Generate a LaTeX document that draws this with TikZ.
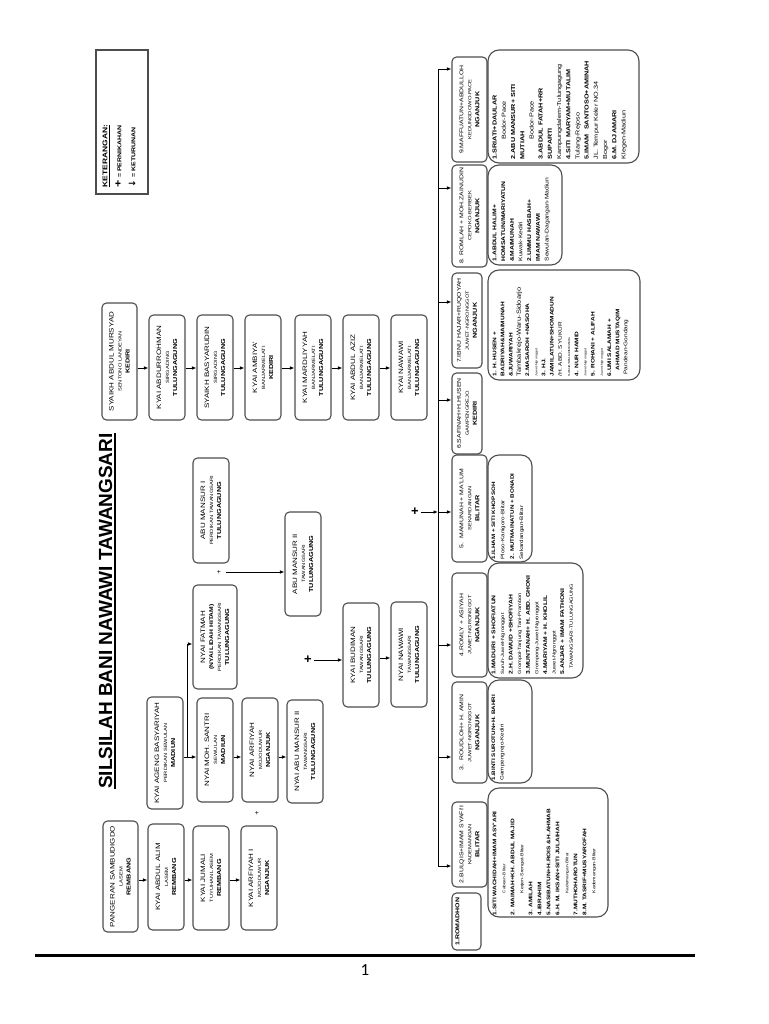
\documentclass[tikz,border=0pt]{standalone}
\usepackage{fontspec}
\setmainfont{Liberation Sans}
\newfontfamily\bxf{Liberation Sans}[FakeStretch=1.25]
\newfontfamily\pgfont{Carlito}
\newfontfamily\symf{DejaVu Sans}
\usetikzlibrary{arrows.meta}
\definecolor{boxc}{HTML}{4d4d4d}
\newcommand\fA{\fontsize{6.4}{8}\selectfont}
\newcommand\fB{\fontsize{4.6}{8}\selectfont}
\newcommand\fC{\fontsize{5.8}{8}\selectfont\bfseries}
\newcommand\fH{\fontsize{5.5}{8}\selectfont}
\newcommand\cb[3]{{\fA #1}\\{\fB #2}\\{\fC #3}}
\newcommand\ch[3]{{\fH #1}\\{\fB #2}\\{\fC #3}}
\newcommand\nmx[1]{{\bfseries #1}}
\newcommand\tplx[1]{{\fontsize{2.9}{3}\selectfont #1}}
\newcommand\cbx[6]{\node[cbox, minimum width=#5pt, minimum height=#4pt] (#1) at (#2,#3) {#6};}
\newcommand\hc[3]{\draw[arr] (#1.south |- #3) -- (#2.north |- #3);}
\begin{document}
\begin{tikzpicture}[x=1pt,y=-1pt,
  cbox/.style={draw=boxc, line width=1.1pt, rounded corners=4.5pt, rotate=90, inner sep=1pt, align=center, font=\bxf\fontsize{6}{8}\selectfont},
  lbox/.style={draw=boxc, line width=1.1pt, rounded corners=11pt, rotate=90, inner sep=0pt},
  ltext/.style={rotate=90, anchor=north west, align=left, inner sep=0pt, font=\bxf\fontsize{5.5}{8.4}\selectfont},
  arr/.style={-{Latex[length=4.5pt,width=3.6pt]}, line width=0.9pt},
  plus/.style={inner sep=0pt, font=\fontsize{7}{7}\selectfont},
  bigplus/.style={inner sep=0pt, font=\fontsize{13}{13}\selectfont\bfseries}]
\fill[white] (0,0) rectangle (768,1024);
\useasboundingbox (0,0) rectangle (768,1024);

% title
\node[rotate=90, anchor=base, inner sep=0pt, font=\fontsize{19}{19}\selectfont\bfseries] (title) at (112,611) {SILSILAH BANI NAWAWI TAWANGSARI};
\draw[line width=1.8pt] ([xshift=2.6pt]title.south west) -- ([xshift=2.6pt]title.south east);

% legend
\node[draw=boxc, line width=1.1pt, minimum width=52pt, minimum height=144pt, inner sep=0pt] (ket) at (122,122) {};
\node[ltext, font=\bxf\fontsize{6}{14}\selectfont] (kett) at ([xshift=7pt,yshift=7pt]ket.south west)
 {{\fontsize{6.8}{8}\selectfont\bfseries\underline{KETERANGAN:}}\\
  {\fontsize{10}{10}\selectfont\bfseries +}\ {\fontsize{5.6}{6}\selectfont\bfseries = PERNIKAHAN}\\
  {\symf\fontsize{9}{9}\selectfont\bfseries ↓}\ {\fontsize{5.6}{6}\selectfont\bfseries = KETURUNAN}};

% right chain (Mursyad)
\cbx{mursyad}{119.5}{361.5}{35}{117}{\cb{SYAIKH ABDUL MURSYAD}{SENTONO LANDEYAN}{KEDIRI}}
\cbx{abdurrohman}{167}{367.5}{36}{105}{\cb{KYAI ABDURROHMAN}{SIRGADING}{TULUNGAGUNG}}
\cbx{basyarudin}{215}{367.5}{36}{105}{\cb{SYAIKH BASYARUDIN}{SIRGADING}{TULUNGAGUNG}}
\cbx{ambiya}{263}{367.5}{36}{105}{\cb{KYAI AMBIYA'}{BANJARMELATI}{KEDIRI}}
\cbx{mardliyyah}{313}{367.5}{36}{105}{\cb{KYAI MARDLIYYAH}{BANJARMELATI}{TULUNGAGUNG}}
\cbx{aziz}{361}{367.5}{36}{105}{\cb{KYAI ABDUL AZIZ}{BANJARMELATI}{TULUNGAGUNG}}
\cbx{kyainawawi}{409}{367.5}{36}{105}{\cb{KYAI NAWAWI}{BANJARMELATI}{TULUNGAGUNG}}

% left chain (Sambudigdo)
\cbx{pangeran}{120.5}{876.5}{35}{111}{\cb{PANGERAN SAMBUDIGDO}{LASEM}{REMBANG}}
\cbx{alim}{166}{877}{36}{106}{\cb{KYAI ABDUL ALIM}{LASEM}{REMBANG}}
\cbx{jumali}{211}{878}{36}{104}{\cb{KYAI JUMALI}{TUYUHAN LASEM}{REMBANG}}
\cbx{arfiyah}{259}{878}{36}{104}{\cb{KYAI ARFIYAH I}{MOJODUWUR}{NGANJUK}}

% middle chain (Basyariyah)
\cbx{ageng}{165}{753}{36}{112}{\cb{KYAI AGENG BASYARIYAH}{PERDIKAN SEWULAN}{MADIUN}}
\cbx{santri}{215}{750}{36}{104}{\cb{NYAI MOH. SANTRI}{SEWULAN}{MADIUN}}
\cbx{nyaiarfiyah}{260}{750}{36}{104}{\cb{NYAI ARFIYAH}{MOJODUWUR}{NGANJUK}}
\cbx{nyaimansur}{305}{751.5}{36}{103}{\cb{NYAI ABU MANSUR II}{TAWANGSARI}{TULUNGAGUNG}}
\cbx{fatmah}{215}{637}{44}{104}{{\fA NYAI FATMAH}\\{\fontsize{5.4}{8}\selectfont\bfseries (NYAI LIDAH HITAM)}\\{\fB PERDIKAN TAWANGSARI}\\{\fC TULUNGAGUNG}}
\cbx{mansur1}{211}{510.5}{36}{105}{\cb{ABU MANSUR I}{PERDIKAN TAWANGSARI}{TULUNGAGUNG}}
\cbx{mansur2}{303}{564}{36}{104}{\cb{ABU MANSUR II}{TAWANGSARI}{TULUNGAGUNG}}
\cbx{budiman}{361}{655}{36}{104}{\cb{KYAI BUDIMAN}{TAWANGSARI}{TULUNGAGUNG}}
\cbx{nyainawawi}{409}{654.5}{36}{105}{\cb{NYAI NAWAWI}{TAWANGSARI}{TULUNGAGUNG}}

% children headers
\cbx{c9}{469.5}{109.5}{35}{105}{\ch{9.MAFFUATUN+ABDULLOH}{KEDUNGDOWO-PACE}{NGANJUK}}
\cbx{c8}{469.5}{216}{35}{102}{\ch{8. ROMLAH + MOH.ZAINUDIN}{CEPOKO-BERBEK}{NGANJUK}}
\cbx{c7}{467}{320.5}{30}{95}{\ch{7.IBNU HAJAR+RUQOYAH}{JUWET-NGRONGGOT}{NGANJUK}}
\cbx{c6}{467}{413.5}{30}{81}{\ch{6.SAFINAH+H.HUSEN}{GAMPENGREJO}{KEDIRI}}
\cbx{c5}{469.5}{508.5}{35}{107}{\ch{5.\ \ MAMUNAH + MA'LUM}{SEKARDANGAN}{BLITAR}}
\cbx{c4}{469.5}{625}{35}{104}{\ch{4.ROMLY + ASIYAH}{JUWET-NGRONGGOT}{NGANJUK}}
\cbx{c3}{469.5}{732.5}{35}{101}{\ch{3.\ \ ROUDLOH+ H. AMIN}{JUWET-NGRONGGOT}{NGANJUK}}
\cbx{c2}{469.5}{844.5}{35}{85}{\ch{2.BULQIS+IMAM SYAFI'I}{KADEMANGAN}{BLITAR}}
\cbx{c1}{466.5}{921.5}{29}{57}{}
\node[rotate=90, inner sep=0pt, font=\bxf\fontsize{5.6}{8}\selectfont\bfseries] (c1t) at (457.5,921.5) {1.ROMADHON};

% grandchildren lists
\node[lbox, minimum width=113pt, minimum height=151pt] (l9) at (563.5,106.5) {};
\node[ltext, font=\bxf\fontsize{5.8}{9.2}\selectfont] (l9t) at ([xshift=5pt,yshift=4pt]l9.north west)
 {\nmx{1.SRIATI+DAULAR}\\
  \hspace*{20pt}Bodor-Pace\\
  \nmx{2.ABU MANSUR+ SITI}\\
  \nmx{MUTIAH}\\
  \hspace*{20pt}Bodor-Pace\\
  \nmx{3.ABDUL FATAH+RR}\\
  \nmx{SUPARTI}\\
  Kampungdalem-Tulungagung\\
  \nmx{4.SITI MARYAM+MUTALIM}\\
  Tulang-Rejoso\\
  \nmx{5.IMAM\ \ SANTOSO+AMINAH}\\
  JL. Tempur Keler NO.34\\
  Bogor\\
  \nmx{6.M. DJAMARI}\\
  Klegen-Madiun};

\node[lbox, minimum width=100pt, minimum height=74pt] (l8) at (525,215) {};
\node[ltext, font=\bxf\fontsize{5.4}{8.7}\selectfont] (l8t) at ([xshift=5pt,yshift=4pt]l8.north west)
 {\nmx{1.ABDUL HALIM+}\\
  \nmx{HOMSATUN/MARIYATUN}\\
  \nmx{\&MAIMUNAH}\\
  Kuwak-Kediri\\
  \nmx{2.UMMU HASBAH+}\\
  \nmx{IMAM NAWAWI}\\
  Sewulan-Dagangan-Madiun};

\node[lbox, minimum width=110pt, minimum height=152pt] (l7) at (564,325) {};
\node[ltext, font=\bxf\fontsize{5.2}{8.2}\selectfont] (l7t) at ([xshift=5pt,yshift=4pt]l7.north west)
 {\nmx{1. H. HUSEN +}\\
  \nmx{BADRIYAH\&MAIMUNAH}\\
  \nmx{\&JUWARIYAH}\\
  {\fontsize{6}{8}\selectfont Tambakrejo-Waru-Sidoarjo}\\
  \nmx{2.MASAROH +NASOHA}\\
  \tplx{Juwet-Ngronggot}\\
  \nmx{3. HJ.}\\
  \nmx{JAMILATUN+SHOMADUN}\\
  /H. ABD. SYUKUR\\
  \tplx{SANJATAN-GONDANG}\\
  \nmx{4. NUR HAMID}\\
  \tplx{Juwet-Ngronggot}\\
  \nmx{5. ROHANI + ALIFAH}\\
  \tplx{Juwet-Ngronggot}\\
  \nmx{6.UMI SALAMAH +}\\
  \hspace*{6pt}\nmx{AHMAD MUSTAQIM}\\
  \hspace*{2pt}Pandean-Gondang};

\node[lbox, minimum width=107pt, minimum height=44pt] (l5) at (510,508.5) {};
\node[ltext, font=\bxf\fontsize{5}{9.3}\selectfont] (l5t) at ([xshift=4pt,yshift=3pt]l5.north west)
 {\nmx{1.ILHAM + SITI KHOPSOH}\\
  Ploso-Kanigoro-Blitar\\
  \nmx{2. MUTMAINATUN + BONADI}\\
  Sekardangan-Blitar};

\node[lbox, minimum width=115pt, minimum height=95pt] (l4) at (535.5,620.5) {};
\node[ltext, font=\bxf\fontsize{5.4}{8.6}\selectfont] (l4t) at ([xshift=4pt,yshift=4pt]l4.north west)
 {\nmx{1.MADURI + SHOFIATUN}\\
  {\fontsize{4.6}{8}\selectfont Suruh-Juwet-Ngronggot}\\
  \nmx{2.H. DAWUD +SHOFIYAH}\\
  {\fontsize{4.6}{8}\selectfont Grompol-Tanjung Tani-Prambon}\\
  \nmx{3.MUNTANAH+ H. ABD. GHONI}\\
  {\fontsize{4.6}{8}\selectfont Grompong-Juwet-Ngronggot}\\
  \nmx{4.MARIYAM + H. KHOLIL}\\
  {\fontsize{4.6}{8}\selectfont Juwet-Ngronggot}\\
  \nmx{5.ANJAR + IMAM FATHONI}\\
  \hspace*{6pt}{\fontsize{4.6}{8}\selectfont TAWANGSARI-TULUNGAGUNG}};

\node[lbox, minimum width=103pt, minimum height=44pt] (l3) at (510,731.5) {};
\node[ltext, font=\bxf\fontsize{5}{8.4}\selectfont] (l3t) at ([xshift=4pt,yshift=3pt]l3.north west)
 {\nmx{1.BINTI SUROTUN+H. BAHRI}\\
  Gampengrejo-Kediri};

\node[lbox, minimum width=129pt, minimum height=120pt] (l2) at (548,852.5) {};
\node[ltext, font=\bxf\fontsize{5.2}{9}\selectfont] (l2t) at ([xshift=5pt,yshift=2pt]l2.north west)
 {\nmx{1.SITI WACHIDAH+IMAM ASY'ARI}\\
  \hspace*{22pt}{\fontsize{3.8}{8}\selectfont Cabean-Blitar}\\
  \nmx{2. MAIMAH+KH. ABDUL MAJID}\\
  \hspace*{22pt}{\fontsize{4.2}{8}\selectfont Kerjen-Srengat-Blitar}\\
  \nmx{3. AMILAH}\\
  \nmx{4.IBRAHIM}\\
  \nmx{5.NASIBATUN+H.ROIS \&H.AHMAB}\\
  \nmx{6.H. M. IKSAN+SITI JULAIHAH}\\
  \hspace*{22pt}{\fontsize{3.8}{8}\selectfont Kademangan-Blitar}\\
  \nmx{7.MUTHOHAROTUN}\\
  \nmx{8.M. TASRIF+MUSYAROFAH}\\
  \hspace*{22pt}{\fontsize{4.2}{8}\selectfont Kademangan-Blitar}};

% connector levels
\coordinate (yR) at (0,368);
\coordinate (yL) at (0,880);
\coordinate (yM) at (0,757);
\coordinate (yF) at (0,644);
\coordinate (yN) at (0,658);

\hc{mursyad}{abdurrohman}{yR}
\hc{abdurrohman}{basyarudin}{yR}
\hc{basyarudin}{ambiya}{yR}
\hc{ambiya}{mardliyyah}{yR}
\hc{mardliyyah}{aziz}{yR}
\hc{aziz}{kyainawawi}{yR}

\hc{pangeran}{alim}{yL}
\hc{alim}{jumali}{yL}
\hc{jumali}{arfiyah}{yL}

\hc{ageng}{santri}{yM}
\hc{santri}{nyaiarfiyah}{yM}
\hc{nyaiarfiyah}{nyaimansur}{yM}
\coordinate (jA) at (187,757);
\draw[arr] (jA) |- (fatmah.north |- yF);
\hc{budiman}{nyainawawi}{yN}

% marriages
\node[plus] (p1) at (257,813) {+};
\node[plus] (p2) at (219,572) {+};
\draw[arr] ([xshift=5pt]p2.east) -- (mansur2.north |- p2);
\node[bigplus] (p3) at (308,660) {+};
\draw[arr] ([xshift=2pt]p3.east) -- (budiman.north |- p3);
\node[bigplus] (p4) at (415,512) {+};

% distribution bar
\coordinate (b9) at (438,69);
\coordinate (b8) at (438,188);
\coordinate (b7) at (438,302);
\coordinate (b6) at (438,400);
\coordinate (b5) at (438,512);
\coordinate (b4) at (438,645);
\coordinate (b3) at (438,757);
\coordinate (b2) at (438,866);
\draw[arr] ([xshift=2pt]p4.east) -- (b5);
\draw[line width=0.9pt] (b9) -- (b2);
\foreach \k in {2,...,9} {\draw[arr] (b\k) -- (b\k -| c\k.north);}

% footer
\draw[line width=3pt] (35,955) -- (695,955);
\node[font=\pgfont\fontsize{17}{17}\selectfont] (pg) at (365,970) {1};
\end{tikzpicture}
\end{document}
